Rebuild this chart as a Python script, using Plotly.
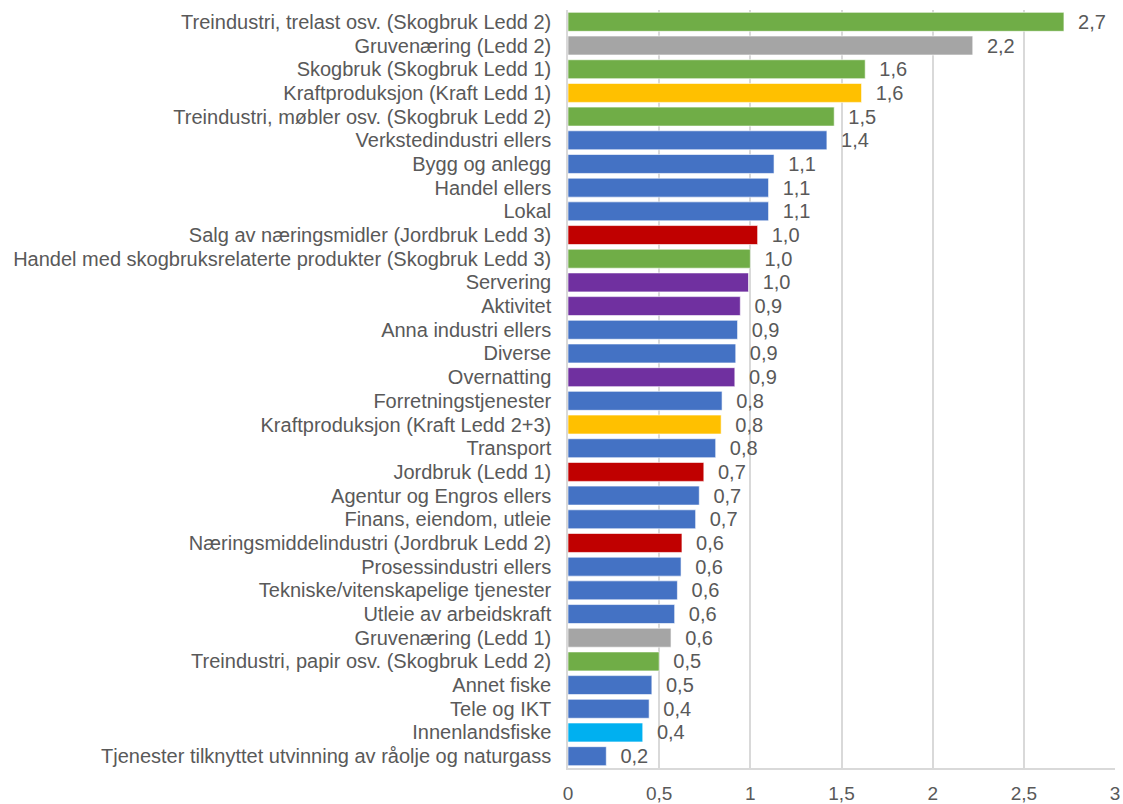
import plotly.graph_objects as go

categories = [
    "Treindustri, trelast osv. (Skogbruk Ledd 2)",
    "Gruvenæring (Ledd 2)",
    "Skogbruk (Skogbruk Ledd 1)",
    "Kraftproduksjon (Kraft Ledd 1)",
    "Treindustri, møbler osv. (Skogbruk Ledd 2)",
    "Verkstedindustri ellers",
    "Bygg og anlegg",
    "Handel ellers",
    "Lokal",
    "Salg av næringsmidler (Jordbruk Ledd 3)",
    "Handel med skogbruksrelaterte produkter (Skogbruk Ledd 3)",
    "Servering",
    "Aktivitet",
    "Anna industri ellers",
    "Diverse",
    "Overnatting",
    "Forretningstjenester",
    "Kraftproduksjon (Kraft Ledd 2+3)",
    "Transport",
    "Jordbruk (Ledd 1)",
    "Agentur og Engros ellers",
    "Finans, eiendom, utleie",
    "Næringsmiddelindustri (Jordbruk Ledd 2)",
    "Prosessindustri ellers",
    "Tekniske/vitenskapelige tjenester",
    "Utleie av arbeidskraft",
    "Gruvenæring (Ledd 1)",
    "Treindustri, papir osv. (Skogbruk Ledd 2)",
    "Annet fiske",
    "Tele og IKT",
    "Innenlandsfiske",
    "Tjenester tilknyttet utvinning av råolje og naturgass",
]

values = [2.72, 2.22, 1.63, 1.61, 1.46, 1.42, 1.13, 1.10, 1.10, 1.04, 1.00, 0.99,
          0.945, 0.93, 0.92, 0.915, 0.845, 0.84, 0.81, 0.745, 0.72, 0.70, 0.625,
          0.62, 0.60, 0.585, 0.565, 0.50, 0.46, 0.445, 0.41, 0.21]

groups = ["skog", "gruve", "skog", "kraft", "skog", "annet", "annet", "annet", "annet",
          "jord", "skog", "reise", "reise", "annet", "annet", "reise", "annet", "kraft",
          "annet", "jord", "annet", "annet", "jord", "annet", "annet", "annet", "gruve",
          "skog", "annet", "annet", "fiske", "annet"]

group_colors = {
    "skog": "#70AD47",
    "gruve": "#A5A5A5",
    "kraft": "#FFC000",
    "annet": "#4472C4",
    "jord": "#C00000",
    "reise": "#7030A0",
    "fiske": "#00B0F0",
}

x_ticks = [0, 0.5, 1, 1.5, 2, 2.5, 3]
x_tick_labels = ["0", "0,5", "1", "1,5", "2", "2,5", "3"]

labels = ["\u00a0\u00a0" + f"{v:.1f}".replace(".", ",") for v in values]
colors = [group_colors[g] for g in groups]

FONT = "Liberation Sans, Arial, sans-serif"
GREY = "#595959"

fig = go.Figure(go.Bar(
    x=values,
    y=categories,
    orientation="h",
    marker=dict(color=colors, line=dict(color="rgba(255,255,255,0.6)", width=1)),
    text=labels,
    textposition="outside",
    constraintext="none",
    textfont=dict(size=20, color=GREY, family=FONT),
    cliponaxis=False,
    hoverinfo="skip",
))

fig.update_layout(
    width=1123, height=804,
    margin=dict(l=568, r=8, t=10, b=36),
    plot_bgcolor="white", paper_bgcolor="white",
    bargap=0.2,
    showlegend=False,
    font=dict(family=FONT, size=20, color=GREY),
)
fig.update_xaxes(
    range=[0, 3], tickvals=x_ticks, ticktext=x_tick_labels,
    showgrid=True, gridcolor="#D9D9D9", gridwidth=1.5,
    showline=True, linecolor="#D9D9D9", linewidth=1.5,
    zeroline=False, tickfont=dict(size=19, color=GREY),
    ticks="", ticklabelstandoff=7, automargin=False,
)
fig.update_yaxes(
    autorange="reversed", showgrid=False,
    tickmode="array", tickvals=categories, ticktext=categories,
    showline=True, linecolor="#D9D9D9", linewidth=1.5,
    ticks="", ticklabelstandoff=11, tickfont=dict(size=20, color=GREY),
    automargin=False,
)

fig.write_html(
    "out.html",
    config={"displayModeBar": False},
    post_script="document.body.style.margin='0';document.body.style.overflow='hidden';",
)
